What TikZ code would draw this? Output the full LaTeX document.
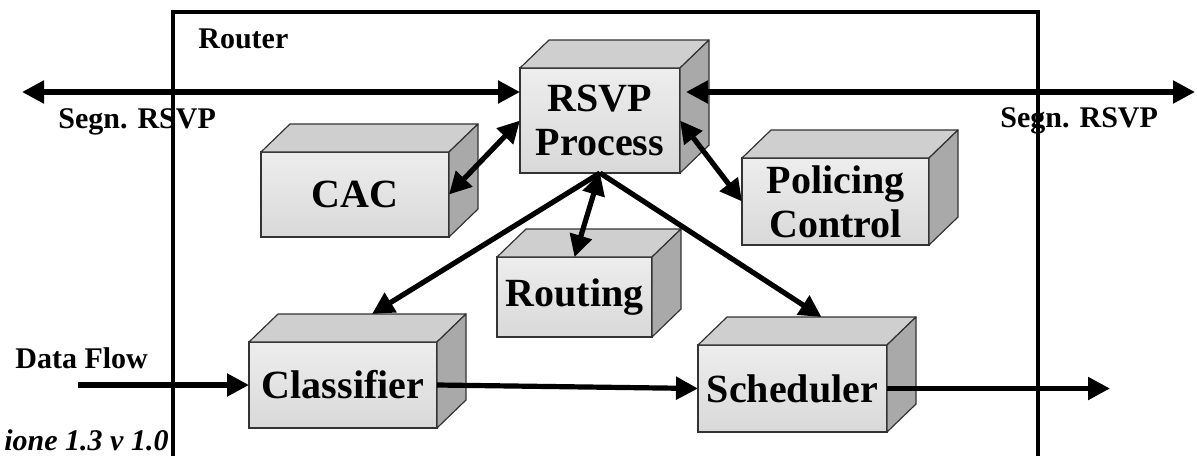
\documentclass[tikz,border=0pt]{standalone}
\usepackage{fontspec}
\setmainfont{Liberation Serif}
\usepackage{tikz}
\usetikzlibrary{arrows.meta, positioning, calc}
\definecolor{cbTop}{HTML}{CFCFCF}
\definecolor{cbSide}{HTML}{A9A9A9}
\definecolor{cbEdge}{HTML}{333333}
\tikzset{
  cubefront/.style={
    draw=cbEdge, line width=0.6pt, inner sep=0pt, outer sep=0pt,
    top color=gray!14, middle color=gray!3, bottom color=gray!30,
    align=center, font=\fontsize{20}{22}\selectfont\bfseries
  },
  cubetop/.style={fill=cbTop, draw=cbEdge, line width=0.6pt, line join=round},
  cubeside/.style={fill=cbSide, draw=cbEdge, line width=0.6pt, line join=round},
  frame/.style={line width=2.4pt, black},
  lbl/.style={font=\fontsize{15}{17}\selectfont\bfseries, inner sep=0pt},
  flow/.style={line width=2.6pt, -{Triangle[length=11pt, width=11pt]}},
  biflow/.style={flow, {Triangle[length=11pt, width=11pt]}-{Triangle[length=11pt, width=11pt]}}
}
% box with top and side faces
\newcommand{\cubebox}[4]{%
  \node[cubefront, #2] (#1) at (#3) {#4};
  \filldraw[cubetop] (#1.north west) -- ++(29,-28) -- ([shift={(29,-28)}]#1.north east) -- (#1.north east) -- cycle;
  \filldraw[cubeside] (#1.north east) -- ++(29,-28) -- ([shift={(29,-28)}]#1.south east) -- (#1.south east) -- cycle;
  \coordinate (#1 back) at ([shift={(29,-28)}]#1.north);
}
\begin{document}
\begin{tikzpicture}[x=0.5pt, y=-0.5pt]
  \useasboundingbox (0,0) rectangle (1197,455);
  % router frame
  \draw[frame] (173,470) -- (173,12) -- (1038,12) -- (1038,470);
  \node[lbl, anchor=base west] (router) at (198,48) {Router};
  \node[lbl, anchor=base west] (segnL) at (58,128) {Segn. RSVP};
  \node[lbl, anchor=base west] (segnR) at (1000,127) {Segn. RSVP};
  \node[lbl, anchor=base west] (dataflow) at (15,368) {Data Flow};
  \node[lbl, font=\fontsize{15}{17}\selectfont\bfseries\itshape, anchor=base west] (version) at (4,450) {ione 1.3 v 1.0};

  \coordinate (sigL) at (22,92);
  \coordinate (sigR) at (1195,92);
  \coordinate (flowin) at (78,385);
  \coordinate (flowout) at (1110,388.5);

  % blocks
  \cubebox{rsvp}{minimum width=80pt, minimum height=52.5pt}{600,120.5}{RSVP\\Process}
  \cubebox{cac}{minimum width=94pt, minimum height=42.5pt}{355,194.5}{CAC}
  \cubebox{police}{minimum width=93.5pt, minimum height=43.5pt}{835.5,201.5}{Policing\\Control}
  \cubebox{routing}{minimum width=77.5pt, minimum height=40pt}{574.5,297}{Routing}
  \cubebox{clsf}{minimum width=94pt, minimum height=43pt}{343,385}{Classifier}
  \cubebox{sched}{minimum width=94.5pt, minimum height=43.5pt}{792.5,388.5}{Scheduler}

  % signalling
  \draw[biflow] (sigL) -- (sigL -| rsvp.west);
  \draw[biflow] ([xshift=3pt]sigR -| rsvp.east) -- (sigR);
  \draw[biflow] (rsvp.west) -- (cac.east);
  \draw[biflow] (rsvp.east) -- (police.west);
  \draw[biflow] (rsvp.south) -- (routing.north);
  \draw[flow] (rsvp.south) -- (clsf back);
  \draw[flow] (rsvp.south) -- (sched back);

  % data path
  \draw[flow] (flowin) -- (clsf.west);
  \draw[flow] (clsf.east) -- (sched.west);
  \draw[flow] (sched.east) -- (flowout);
\end{tikzpicture}
\end{document}
